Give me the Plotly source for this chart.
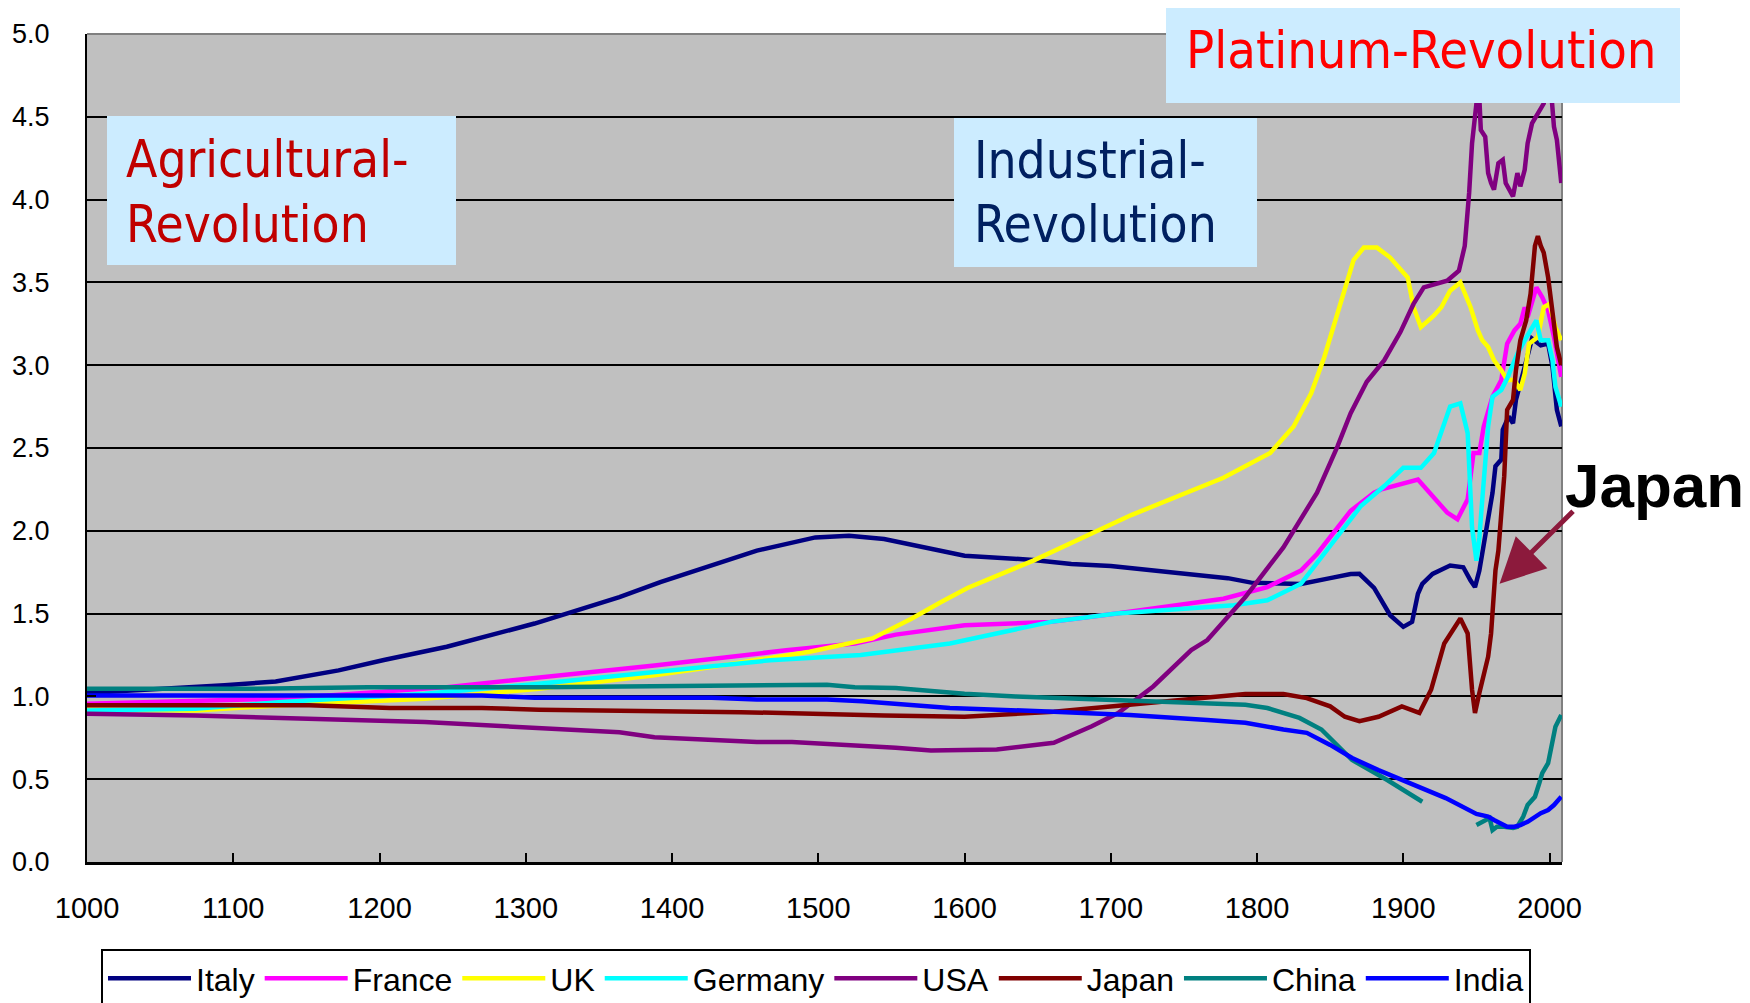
import plotly.graph_objects as go

# ---------------- data (relative GDP per capita vs world average) ----------------
italy_years = [1000, 1043, 1094, 1129, 1172, 1203, 1246, 1306, 1364, 1392, 1415, 1458, 1498, 1521, 1545,
               1584, 1600, 1647, 1673, 1700, 1727, 1761, 1780, 1796, 1830, 1850, 1864, 1870, 1880, 1891,
               1900, 1906, 1910, 1913, 1920, 1932, 1941, 1946, 1949, 1952, 1955, 1958, 1961, 1963, 1967,
               1968, 1972, 1975, 1977, 1983, 1988, 1994, 1999, 2002, 2005, 2008]
italy = [1.02, 1.04, 1.067, 1.09, 1.157, 1.22, 1.30, 1.44, 1.60, 1.69, 1.756, 1.88, 1.96, 1.97, 1.95,
         1.88, 1.85, 1.824, 1.80, 1.787, 1.763, 1.727, 1.714, 1.687, 1.679, 1.714, 1.739, 1.74, 1.655, 1.49,
         1.42, 1.45, 1.62, 1.68, 1.74, 1.79, 1.78, 1.70, 1.66, 1.76, 1.93, 2.065, 2.23, 2.39, 2.43,
         2.61, 2.69, 2.65, 2.79, 2.99, 3.16, 3.12, 3.13, 2.99, 2.73, 2.63]

france_years = [1000, 1133, 1246, 1317, 1388, 1478, 1525, 1553, 1600, 1659, 1704, 1777, 1807, 1830, 1841,
                1864, 1871, 1880, 1885, 1910, 1930, 1937, 1944, 1948, 1952, 1955, 1961, 1967, 1971, 1976,
                1980, 1983, 1985, 1991, 1995, 1999, 2003, 2008]
france = [0.956, 0.986, 1.056, 1.12, 1.187, 1.278, 1.32, 1.373, 1.43, 1.45, 1.50, 1.59, 1.66, 1.76, 1.86,
          2.12, 2.17, 2.23, 2.25, 2.31, 2.11, 2.07, 2.19, 2.47, 2.47, 2.63, 2.81, 2.91, 3.13, 3.21,
          3.25, 3.35, 3.29, 3.47, 3.41, 3.33, 3.17, 2.93]

uk_years = [1000, 1074, 1133, 1231, 1309, 1388, 1427, 1494, 1537, 1564, 1584, 1602, 1647, 1714, 1777,
            1809, 1825, 1837, 1846, 1860, 1866, 1873, 1882, 1891, 1903, 1907, 1912, 1921, 1926, 1932,
            1939, 1946, 1951, 1954, 1958, 1962, 1967, 1971, 1976, 1980, 1983, 1986, 1992, 1996, 2000,
            2004, 2008]
uk = [0.92, 0.915, 0.946, 0.986, 1.046, 1.127, 1.177, 1.27, 1.35, 1.47, 1.57, 1.655, 1.82, 2.095, 2.32,
      2.47, 2.63, 2.83, 3.05, 3.45, 3.635, 3.71, 3.71, 3.65, 3.53, 3.35, 3.23, 3.30, 3.35, 3.45,
      3.50, 3.35, 3.21, 3.15, 3.11, 3.03, 2.97, 2.91, 2.91, 2.85, 2.95, 3.13, 3.17, 3.35, 3.37,
      3.23, 3.15]

germany_years = [1000, 1074, 1133, 1231, 1309, 1388, 1467, 1529, 1561, 1590, 1659, 1704, 1784, 1807, 1830,
                 1853, 1871, 1887, 1900, 1912, 1921, 1932, 1939, 1944, 1947, 1950, 1952, 1954, 1958, 1961,
                 1967, 1971, 1978, 1983, 1987, 1991, 1994, 1999, 2002, 2004, 2008]
germany = [0.915, 0.925, 0.966, 1.016, 1.077, 1.147, 1.218, 1.25, 1.288, 1.32, 1.45, 1.50, 1.55, 1.58, 1.68,
           1.94, 2.15, 2.27, 2.38, 2.38, 2.47, 2.75, 2.77, 2.59, 2.02, 1.82, 1.96, 2.19, 2.63, 2.81,
           2.85, 2.92, 3.07, 3.15, 3.21, 3.27, 3.15, 3.15, 3.03, 2.87, 2.75]

usa_years = [1000, 1074, 1231, 1364, 1388, 1458, 1482, 1525, 1553, 1577, 1608, 1622, 1661, 1687, 1705,
             1729, 1755, 1766, 1792, 1818, 1841, 1855, 1864, 1875, 1887, 1898, 1907, 1914, 1930, 1938,
             1942, 1945, 1947, 1950, 1952, 1953, 1956, 1958, 1960, 1962, 1965, 1968, 1970, 1972, 1975,
             1978, 1980, 1983, 1985, 1988, 1992, 1994, 1996, 1999, 2001, 2003, 2005, 2008]
usa = [0.895, 0.885, 0.845, 0.784, 0.754, 0.724, 0.724, 0.704, 0.69, 0.673, 0.677, 0.68, 0.72, 0.82, 0.90,
       1.06, 1.28, 1.34, 1.60, 1.90, 2.23, 2.51, 2.71, 2.90, 3.03, 3.20, 3.37, 3.47, 3.51, 3.57,
       3.72, 4.04, 4.34, 4.58, 4.61, 4.42, 4.38, 4.16, 4.10, 4.06, 4.22, 4.24, 4.10, 4.07, 4.02,
       4.16, 4.08, 4.18, 4.34, 4.46, 4.52, 4.56, 4.58, 4.72, 4.66, 4.44, 4.36, 4.10]

japan_years = [1000, 1152, 1207, 1270, 1309, 1388, 1447, 1545, 1600, 1661, 1713, 1766, 1792, 1818, 1834,
               1850, 1860, 1870, 1883, 1899, 1911, 1919, 1928, 1939, 1944, 1947, 1949, 1952, 1955, 1958,
               1960, 1961, 1963, 1965, 1969, 1971, 1975, 1977, 1980, 1984, 1987, 1990, 1992, 1994, 1996,
               1999, 2001, 2003, 2005, 2008]
japan = [0.946, 0.946, 0.93, 0.93, 0.92, 0.91, 0.905, 0.885, 0.877, 0.908, 0.948, 0.99, 1.015, 1.015, 0.99,
         0.94, 0.877, 0.85, 0.877, 0.94, 0.90, 1.04, 1.32, 1.47, 1.38, 1.04, 0.90, 1.02, 1.12, 1.24,
         1.38, 1.55, 1.76, 1.88, 2.33, 2.73, 2.79, 2.97, 3.15, 3.27, 3.43, 3.72, 3.78, 3.72, 3.68,
         3.53, 3.39, 3.23, 3.11, 3.00]

china_years = [1000, 1113, 1192, 1309, 1506, 1525, 1553, 1577, 1600, 1635, 1703, 1766, 1792, 1807, 1829,
               1844, 1865, 1889, 1913, 1930, 1950, 1954, 1959, 1961, 1964, 1969, 1975, 1978, 1982, 1985,
               1990, 1993, 1995, 1999, 2002, 2004, 2008]
china = [1.046, 1.046, 1.056, 1.056, 1.07, 1.056, 1.05, 1.03, 1.016, 1.00, 0.98, 0.955, 0.95, 0.93, 0.87,
         0.80, 0.616, 0.495, 0.364, None, 0.223, 0.243, 0.265, 0.193, 0.213, 0.213, 0.205, 0.213, 0.274, 0.344,
         0.394, 0.477, 0.537, 0.597, 0.737, 0.817, 0.888]

india_years = [1000, 1270, 1306, 1427, 1458, 1506, 1530, 1561, 1590, 1661, 1713, 1766, 1792, 1818, 1834,
               1850, 1865, 1883, 1907, 1929, 1950, 1958, 1962, 1967, 1971, 1976, 1980, 1985, 1990, 1994,
               1999, 2003, 2008]
india = [1.006, 1.006, 0.992, 0.992, 0.982, 0.982, 0.97, 0.95, 0.93, 0.908, 0.888, 0.857, 0.841, 0.80, 0.78,
         0.707, 0.628, 0.555, 0.465, 0.386, 0.29, 0.274, 0.254, 0.235, 0.213, 0.213, 0.223, 0.243, 0.274, 0.295,
         0.314, 0.344, 0.394]

series_names = ["Italy", "France", "UK", "Germany", "USA", "Japan", "China", "India"]
series_years = [italy_years, france_years, uk_years, germany_years, usa_years, japan_years, china_years, india_years]
series_values = [italy, france, uk, germany, usa, japan, china, india]
series_colors = ["#000080", "#FF00FF", "#FFFF00", "#00FFFF", "#800080", "#800000", "#008080", "#0000FF"]

x_ticks = list(range(1000, 2001, 100))

# ---------------- layout geometry (page pixels; page body has an 8px margin) ----------------
W, H = 1750, 1003
OFF = 8
PAGE_L, PAGE_T, PAGE_R, PAGE_B = 87, 34, 1562, 862
ML, MT = PAGE_L - OFF, PAGE_T - OFF
MR, MB = W - (PAGE_R - OFF), H - (PAGE_B - OFF)
PW, PH = PAGE_R - PAGE_L, PAGE_B - PAGE_T


def px(X):
    return (X - PAGE_L) / PW


def py(Y):
    return (PAGE_B - Y) / PH


fig = go.Figure()
for name, xs, ys, col in zip(series_names, series_years, series_values, series_colors):
    fig.add_trace(go.Scatter(x=xs, y=ys, name=name, mode="lines",
                             line=dict(color=col, width=4.5), connectgaps=False))

BOX = "#CCECFF"
TXT_FONT = "DejaVu Sans Condensed, DejaVu Sans, sans-serif"
CENTER_FROM_BASELINE = 20.7
shapes = [
    dict(type="line", xref="paper", yref="paper", x0=0, x1=1, y0=1, y1=1,
         line=dict(color="#808080", width=2), layer="below"),
    dict(type="line", xref="paper", yref="paper", x0=1, x1=1, y0=0, y1=1,
         line=dict(color="#808080", width=2), layer="below"),
    dict(type="rect", xref="paper", yref="paper", x0=px(107), x1=px(456), y0=py(265), y1=py(116),
         fillcolor=BOX, line=dict(width=0), layer="above"),
    dict(type="rect", xref="paper", yref="paper", x0=px(954), x1=px(1257), y0=py(267), y1=py(118),
         fillcolor=BOX, line=dict(width=0), layer="above"),
    dict(type="rect", xref="paper", yref="paper", x0=px(1166), x1=px(1680), y0=py(103), y1=py(7),
         fillcolor=BOX, line=dict(width=0), layer="above"),
]


def label(text, X, baseline, color, size=51):
    return dict(text=text, xref="paper", yref="paper", x=px(X), y=py(baseline - CENTER_FROM_BASELINE),
                xanchor="left", yanchor="middle", align="left", showarrow=False,
                font=dict(family=TXT_FONT, size=size, color=color))


annotations = [
    label("Agricultural-", 124, 180, "#C00000"),
    label("Revolution", 124, 245, "#C00000"),
    label("Industrial-", 972, 181, "#002060"),
    label("Revolution", 972, 245, "#002060"),
    label("Platinum-Revolution", 1184, 71, "#FF0000", size=52),
    dict(text="<b>Japan</b>", xref="paper", yref="paper", x=px(1563), y=py(485),
         xanchor="left", yanchor="middle", showarrow=False,
         font=dict(family="Liberation Sans, Arial, sans-serif", size=62, color="#000000")),
    dict(text="", xref="x", yref="y", x=1965.8, y=1.68, ax=75, ay=-74,
         showarrow=True, arrowhead=2, arrowsize=1.8, arrowwidth=5, arrowcolor="#8C1A3C"),
]

fig.update_layout(
    width=W, height=H,
    template="none",
    margin=dict(l=ML, r=MR, t=MT, b=MB, autoexpand=False),
    paper_bgcolor="white",
    plot_bgcolor="#C0C0C0",
    font=dict(family="Liberation Sans, Arial, sans-serif", color="black"),
    showlegend=True,
    legend=dict(orientation="h", x=px(101), y=py(949), xanchor="left", yanchor="top",
                bgcolor="white", bordercolor="black", borderwidth=2,
                font=dict(family="Liberation Sans, Arial, sans-serif", size=32, color="black"),
                itemwidth=83, tracegroupgap=0),
    xaxis=dict(range=[1000, 2008.5], tickvals=x_ticks, ticktext=[str(t) for t in x_ticks],
               showgrid=False, zeroline=False, showline=True, linecolor="black", linewidth=3,
               ticks="inside", ticklen=9, tickwidth=2, tickcolor="black",
               tickfont=dict(size=29, color="black"), ticklabelstandoff=18),
    yaxis=dict(range=[0, 5], tick0=0, dtick=0.5, tickformat=".1f",
               showgrid=True, gridcolor="black", gridwidth=2, zeroline=False,
               showline=True, linecolor="black", linewidth=2,
               ticks="inside", ticklen=9, tickwidth=2, tickcolor="black",
               tickfont=dict(size=27, color="black"), ticklabelstandoff=30),
    shapes=shapes,
    annotations=annotations,
)

fig.write_html("out.html")
